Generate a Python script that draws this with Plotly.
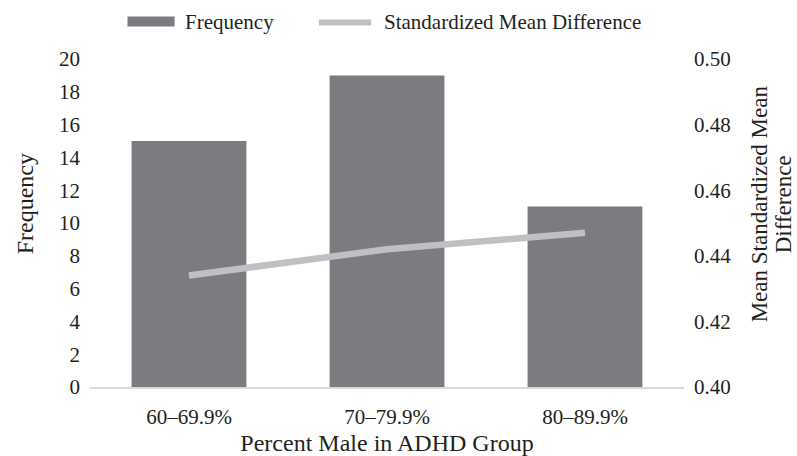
import plotly.graph_objects as go

categories = ["60–69.9%", "70–79.9%", "80–89.9%"]
frequency = [15, 19, 11]
smd = [0.434, 0.442, 0.447]

FONT = "Liberation Serif, Times New Roman, serif"
BAR_COLOR = "#7b7c80"
LINE_COLOR = "#bfc0c4"
TEXT_COLOR = "#231f20"

fig = go.Figure()
fig.add_trace(go.Bar(x=categories, y=frequency, name="Frequency",
                     marker=dict(color=BAR_COLOR, line=dict(width=0)),
                     showlegend=False))
fig.add_trace(go.Scatter(x=categories, y=smd, name="Standardized Mean Difference",
                         mode="lines", yaxis="y2",
                         line=dict(color=LINE_COLOR, width=6.5),
                         showlegend=False))

# custom legend (paper coordinates)
fig.add_shape(type="rect", xref="paper", yref="paper",
              x0=0.0631, x1=0.1424, y0=1.0993, y1=1.1297,
              fillcolor=BAR_COLOR, line=dict(width=0))
fig.add_shape(type="line", xref="paper", yref="paper",
              x0=0.3855, x1=0.4731, y0=1.1115, y1=1.1115,
              line=dict(color=LINE_COLOR, width=6))
fig.add_annotation(text="Frequency", xref="paper", yref="paper",
                   x=0.1566, y=1.1115, xanchor="left", yanchor="middle",
                   showarrow=False, font=dict(family=FONT, size=21, color=TEXT_COLOR))
fig.add_annotation(text="Standardized Mean Difference", xref="paper", yref="paper",
                   x=0.4916, y=1.1115, xanchor="left", yanchor="middle",
                   showarrow=False, font=dict(family=FONT, size=21, color=TEXT_COLOR))

# y-axis titles (placed as in the reference, slightly above centre)
fig.add_annotation(text="Frequency", xref="paper", yref="paper",
                   x=-0.1094, y=0.557, xanchor="center", yanchor="middle",
                   textangle=-90, showarrow=False,
                   font=dict(family=FONT, size=24, color=TEXT_COLOR))
fig.add_annotation(text="Mean Standardized Mean", xref="paper", yref="paper",
                   x=1.1263, y=0.557, xanchor="center", yanchor="middle",
                   textangle=-90, showarrow=False,
                   font=dict(family=FONT, size=23, color=TEXT_COLOR))
fig.add_annotation(text="Difference", xref="paper", yref="paper",
                   x=1.1667, y=0.557, xanchor="center", yanchor="middle",
                   textangle=-90, showarrow=False,
                   font=dict(family=FONT, size=23, color=TEXT_COLOR))

fig.update_layout(
    width=797, height=456,
    margin=dict(l=90, r=113, t=59, b=69, pad=0, autoexpand=False),
    paper_bgcolor="white", plot_bgcolor="white",
    font=dict(family=FONT, size=21, color=TEXT_COLOR),
    bargap=0.42,
    xaxis=dict(showline=True, linecolor="#d9d9d9", linewidth=1.5,
               showgrid=False, zeroline=False, ticks="", automargin=False,
               ticklabelstandoff=10,
               tickfont=dict(family=FONT, size=21, color=TEXT_COLOR),
               title=dict(text="Percent Male in ADHD Group",
                          font=dict(family=FONT, size=24, color=TEXT_COLOR),
                          standoff=10)),
    yaxis=dict(range=[0, 20], dtick=2, showgrid=False, zeroline=False,
               showline=False, ticks="", ticklabelstandoff=9, automargin=False,
               tickfont=dict(family=FONT, size=21, color=TEXT_COLOR)),
    yaxis2=dict(range=[0.40, 0.50], dtick=0.02, tickformat=".2f",
                overlaying="y", side="right", showgrid=False, zeroline=False,
                showline=False, ticks="", ticklabelstandoff=9, automargin=False,
                tickfont=dict(family=FONT, size=21, color=TEXT_COLOR)),
)

fig.write_html("out.html")
